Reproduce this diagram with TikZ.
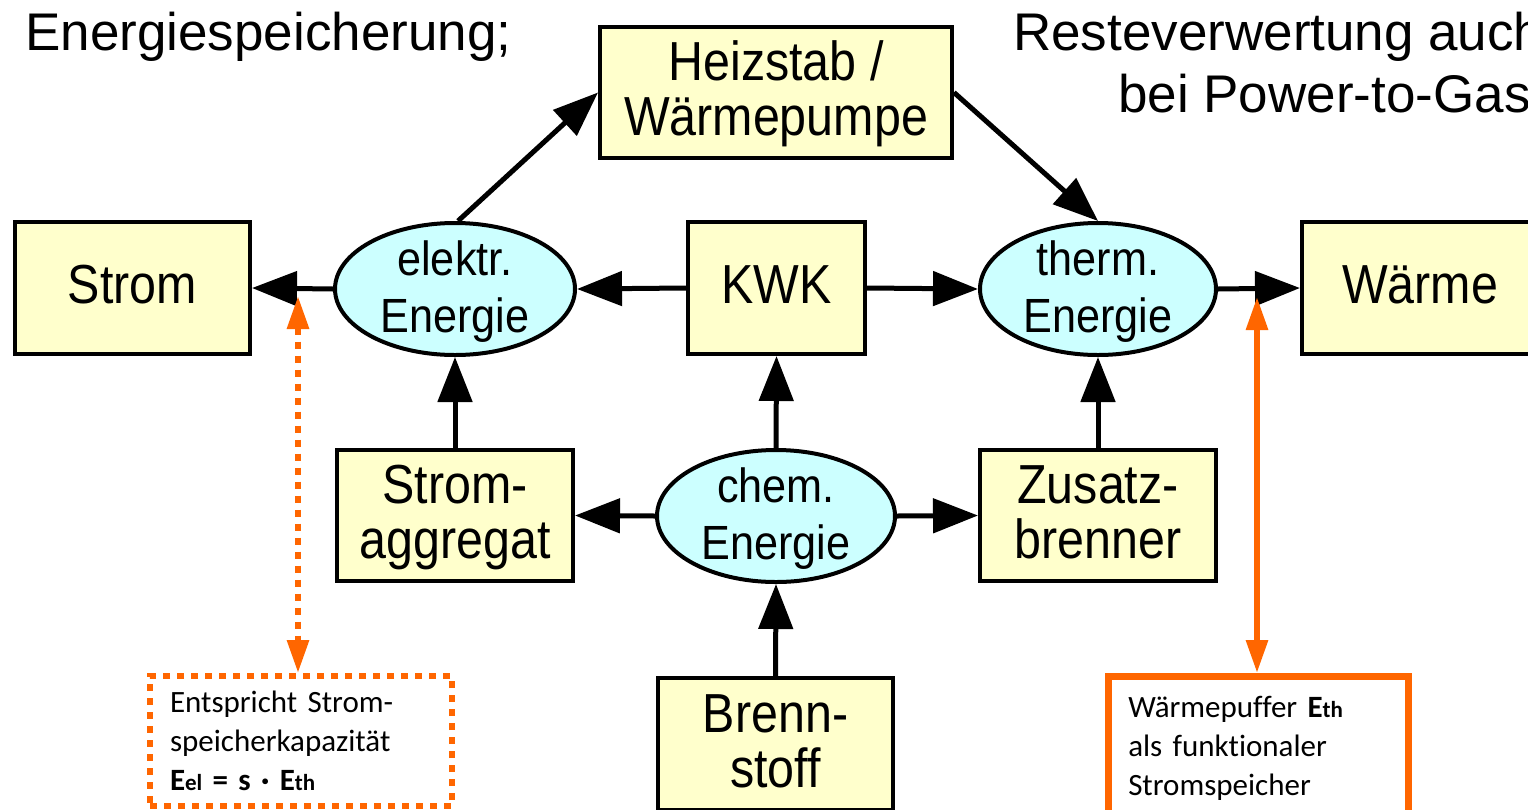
\documentclass[tikz,border=0pt]{standalone}
\usepackage{fontspec}
\setmainfont{Liberation Sans}
\newfontfamily\calib[Ligatures={NoCommon}]{Carlito}
\newfontfamily\boxfnt[FakeStretch=0.88]{Liberation Sans}
\newfontfamily\ellfnt[FakeStretch=0.9]{Liberation Sans}
\usetikzlibrary{arrows.meta,shapes.geometric}
\definecolor{boxy}{HTML}{FFFFCC}
\definecolor{ellc}{HTML}{CCFFFF}
\definecolor{orng}{HTML}{FF6600}
\newcommand{\smb}[1]{{\fontsize{23}{39}\selectfont\bfseries #1}}
\newcommand{\bst}{\rule[-12pt]{0pt}{55pt}}
\newcommand{\est}{\rule[-14pt]{0pt}{57pt}}
\begin{document}
\begin{tikzpicture}[x=1pt,y=-1pt,
  box/.style={draw=black, line width=4pt, fill=boxy, rectangle, inner sep=0pt, align=center,
    font=\boxfnt\fontsize{55}{55}\selectfont},
  ell/.style={draw=black, line width=4pt, fill=ellc, ellipse, inner sep=-40pt, align=center,
    font=\ellfnt\fontsize{48}{57}\selectfont},
  flow/.style={line width=5pt, -{Triangle[length=45pt,width=34pt]}},
  obi/.style={draw=orng, color=orng, line width=6pt, {Triangle[length=33pt,width=21pt]}-{Triangle[length=33pt,width=21pt]}},
  notebox/.style={rectangle, align=left, inner xsep=20pt, inner ysep=0pt,
    font=\calib\fontsize{31}{39}\selectfont, anchor=north west},
  title/.style={anchor=base west, inner sep=0pt, font=\fontsize{53}{60}\selectfont}
]
\useasboundingbox (0,0) rectangle (1528,809);
\clip (0,0) rectangle (1528,809);

% titles
\node[title] (t1) at (25,50) {Energiespeicherung;};
\node[title] (t2) at (1013,50) {Resteverwertung auch};
\node[title] (t3) at (1118,112) {bei Power-to-Gas};

% boxes
\node[box, minimum width=352pt, minimum height=131pt] (heiz) at (776,92.5) {\bst Heizstab /\\\bst Wärmepumpe};
\node[box, minimum width=235pt, minimum height=132pt] (strom) at (132.5,288) {\bst Strom};
\node[box, minimum width=177pt, minimum height=132pt] (kwk) at (776.5,288) {\bst KWK};
\node[box, minimum width=236pt, minimum height=132pt] (waerme) at (1420,288) {\bst Wärme};
\node[box, minimum width=236pt, minimum height=131pt] (agg) at (455,515.5) {\bst Strom-\\\bst aggregat};
\node[box, minimum width=236pt, minimum height=131pt] (zus) at (1098,515.5) {\bst Zusatz-\\\bst brenner};
\node[box, minimum width=235pt, minimum height=132pt] (brenn) at (775.5,744) {\bst Brenn-\\\bst stoff};

% ellipses
\node[ell, minimum width=240pt, minimum height=132pt] (elek) at (455,289) {\est elektr.\\\est Energie};
\node[ell, minimum width=236pt, minimum height=132pt] (therm) at (1098,289) {\est therm.\\\est Energie};
\node[ell, minimum width=238pt, minimum height=132pt] (chem) at (776,516) {\est chem.\\\est Energie};

% flows
\draw[flow] (elek.west) -- (strom.east);
\draw[flow] (kwk.west) -- (elek.east);
\draw[flow] (kwk.east) -- (therm.west);
\draw[flow] (therm.east) -- (waerme.west);
\draw[flow] (agg.north) -- (elek.south);
\draw[flow] (chem.north) -- (kwk.south);
\draw[flow] (zus.north) -- (therm.south);
\draw[flow] (chem.west) -- (agg.east);
\draw[flow] (chem.east) -- (zus.west);
\draw[flow] (brenn.north) -- (chem.south);
\draw[flow] ([xshift=3pt]elek.north) -- (heiz.west);
\draw[flow] (heiz.east) -- (therm.north);

% note boxes
\node[notebox, text width=262pt, draw=orng, line width=6pt, dash pattern=on 7pt off 7pt, minimum height=130pt] (n1) at (147,673)
  {Entspricht Strom-\\speicherkapazität\\\textbf{E}\smb{el} \textbf{= s · E}\smb{th}};
\node[notebox, text width=260pt, draw=orng, line width=6.5pt, minimum height=145pt] (n2) at (1105,673)
  {Wärmepuffer \textbf{E}\smb{th}\\als funktionaler\\Stromspeicher};

% orange arrows
\coordinate (o1) at (298,296);
\coordinate (o2) at (1257,297);
\draw[obi, dash pattern=on 7pt off 7pt] (o1) -- (o1 |- n1.north);
\draw[obi] (o2) -- (o2 |- n2.north);
\end{tikzpicture}
\end{document}
